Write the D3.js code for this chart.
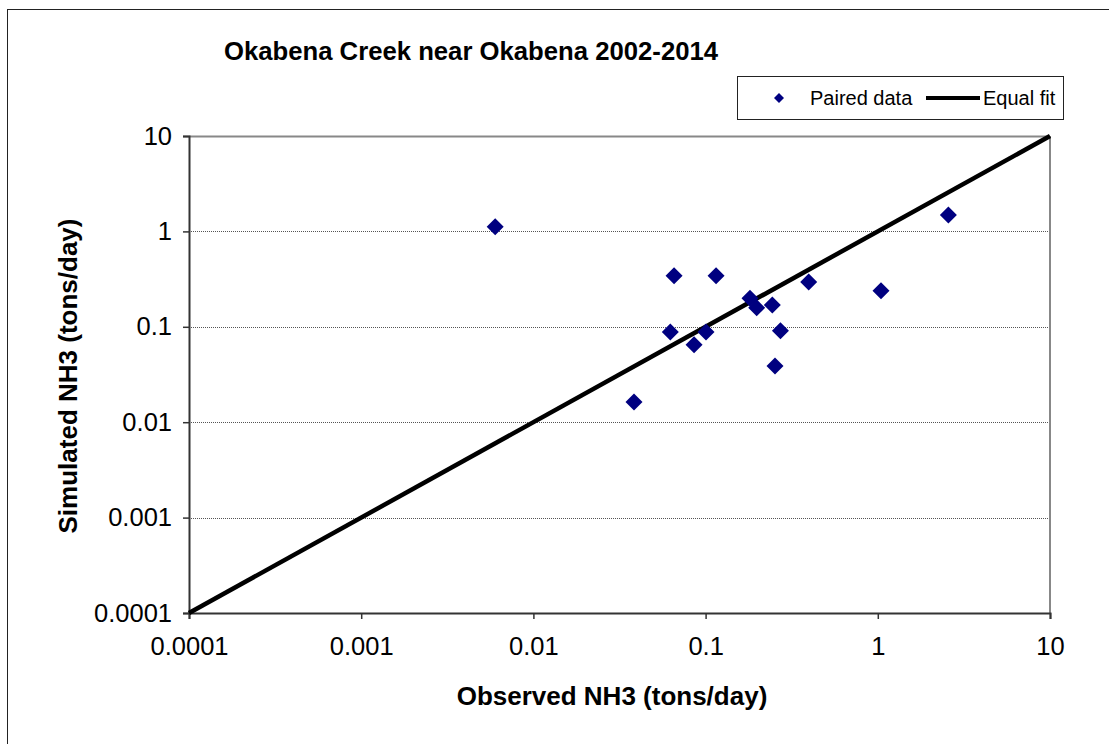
<!DOCTYPE html>
<html><head><meta charset="utf-8">
<script src="https://cdn.jsdelivr.net/npm/d3@7"></script>
<style>body{margin:0;background:#fff;} text{font-family:"Liberation Sans",Arial,sans-serif;}</style>
</head><body>
<svg id="c" width="1109" height="744"></svg>
<script>
const observed = [0.006, 0.0656, 0.115, 0.0624, 0.0857, 0.1005, 0.181, 0.198, 0.244, 0.272, 0.253, 0.397, 2.57, 1.044, 0.0384];
const simulated = [1.12, 0.343, 0.343, 0.088, 0.065, 0.088, 0.199, 0.158, 0.169, 0.091, 0.0388, 0.295, 1.49, 0.239, 0.0163];
const tickValues = [0.0001, 0.001, 0.01, 0.1, 1, 10];
const tickLabels = ["0.0001", "0.001", "0.01", "0.1", "1", "10"];
const fitLine = [0.0001, 10];

const svg = d3.select("#c");
const L = 189, R = 1050, T = 136, B = 613;
const x = d3.scaleLog().domain([0.0001, 10]).range([L, R]);
const y = d3.scaleLog().domain([0.0001, 10]).range([B, T]);

// outer border
svg.append("rect").attr("x", 7.5).attr("y", 9.5).attr("width", 1120).attr("height", 760)
  .attr("fill", "none").attr("stroke", "#222").attr("stroke-width", 1);

// gridlines
svg.append("g").selectAll("line").data(tickValues.filter(v => v > 0.0001 && v < 10)).join("line")
  .attr("x1", L).attr("x2", R).attr("y1", d => Math.round(y(d)) + 0.5).attr("y2", d => Math.round(y(d)) + 0.5)
  .attr("stroke", "#555").attr("stroke-width", 1).attr("stroke-dasharray", "1,1");

// plot border top/right
svg.append("line").attr("x1", L).attr("x2", R).attr("y1", T + 0.5).attr("y2", T + 0.5).attr("stroke", "#888").attr("stroke-width", 2);
svg.append("line").attr("x1", R).attr("x2", R).attr("y1", T).attr("y2", B).attr("stroke", "#888").attr("stroke-width", 2);

// axes
const xAxis = d3.axisBottom(x).tickValues(tickValues).tickFormat((d, i) => tickLabels[i]).tickSize(6).tickPadding(16);
const yAxis = d3.axisLeft(y).tickValues(tickValues).tickFormat((d, i) => tickLabels[i]).tickSize(6).tickPadding(11);
const gx = svg.append("g").attr("transform", `translate(0,${B})`).call(xAxis);
const gy = svg.append("g").attr("transform", `translate(${L},0)`).call(yAxis);
[gx, gy].forEach(g => {
  g.attr("font-size", null).attr("font-family", null);
  g.select(".domain").attr("stroke", "#333").attr("stroke-width", 2);
  g.selectAll(".tick line").attr("stroke", "#333").attr("stroke-width", 1.5);
  g.selectAll(".tick text").attr("font-size", 25.5).attr("fill", "#000");
});
gx.selectAll(".tick text").attr("dy", "0.8em");

// equal fit line
svg.append("line").attr("x1", x(fitLine[0])).attr("y1", y(fitLine[0])).attr("x2", x(fitLine[1])).attr("y2", y(fitLine[1]))
  .attr("stroke", "#000").attr("stroke-width", 4.5);

// points
const diamond = "M0,-8.5L8.5,0L0,8.5L-8.5,0Z";
svg.append("g").selectAll("path").data(observed.map((o, i) => [o, simulated[i]])).join("path")
  .attr("d", diamond).attr("transform", d => `translate(${x(d[0])},${y(d[1])})`).attr("fill", "#000080");

// title
svg.append("text").attr("x", 471).attr("y", 60).attr("text-anchor", "middle").attr("font-size", 25.7).attr("font-weight", "bold").text("Okabena Creek near Okabena 2002-2014");

// axis titles
svg.append("text").attr("x", 612).attr("y", 705).attr("text-anchor", "middle").attr("font-size", 26).attr("font-weight", "bold").text("Observed NH3 (tons/day)");
svg.append("text").attr("transform", "translate(77,376) rotate(-90)").attr("text-anchor", "middle").attr("font-size", 26).attr("font-weight", "bold").text("Simulated NH3 (tons/day)");

// legend
svg.append("rect").attr("x", 737.5).attr("y", 76.5).attr("width", 326).attr("height", 43).attr("fill", "#fff").attr("stroke", "#222").attr("stroke-width", 1);
svg.append("path").attr("d", "M0,-5L5,0L0,5L-5,0Z").attr("transform", "translate(779,98)").attr("fill", "#000080");
svg.append("text").attr("x", 810).attr("y", 105).attr("font-size", 20).text("Paired data");
svg.append("line").attr("x1", 926).attr("x2", 980).attr("y1", 98).attr("y2", 98).attr("stroke", "#000").attr("stroke-width", 4);
svg.append("text").attr("x", 983).attr("y", 105).attr("font-size", 20).text("Equal fit");
</script>
</body></html>
